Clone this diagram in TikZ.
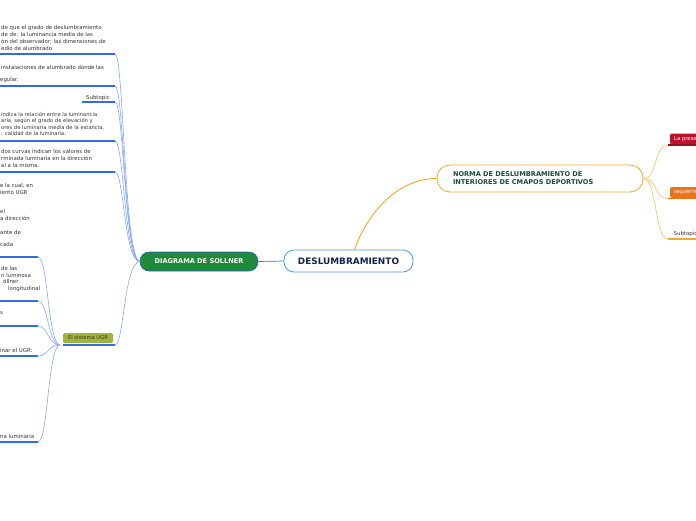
\documentclass[tikz,border=0pt]{standalone}
\usepackage{fontspec}
\usetikzlibrary{calc}
\setmainfont{DejaVu Sans}
\definecolor{ublue}{HTML}{2F6DE6}
\definecolor{cblue}{HTML}{86A8F7}
\definecolor{sgreen}{HTML}{1E8A3C}
\definecolor{sborder}{HTML}{2F62C8}
\definecolor{dborder}{HTML}{4A9AD6}
\definecolor{navy}{HTML}{14244F}
\definecolor{orb}{HTML}{F7A728}
\definecolor{orl}{HTML}{FBC46A}
\definecolor{ntext}{HTML}{1C4A3C}
\definecolor{crim}{HTML}{B8142F}
\definecolor{oran}{HTML}{EC7418}
\definecolor{olive}{HTML}{A2B23A}
\definecolor{tgray}{HTML}{333333}
\begin{document}
\begin{tikzpicture}[x=1pt,y=-1pt,
  leaf/.style={anchor=base west, inner sep=0pt, align=left, text=tgray,
    font=\fontsize{5.4}{6.6}\selectfont},
  uline/.style={draw=ublue, line width=1.4pt},
  conn/.style={draw=cblue, line width=0.6pt},
  oconn/.style={draw=orl, line width=0.7pt},
  oline/.style={draw=orb, line width=1.2pt},
  subbox/.style={anchor=west, inner xsep=4pt, inner ysep=0pt, minimum height=11pt,
    text width=40pt, align=left, text=white, rounded corners=1.5pt,
    font=\fontsize{5.2}{6}\selectfont}
]
\useasboundingbox (0,0) rectangle (696,520);
\clip (0,0) rectangle (696,520);

% ---------- main nodes ----------
\node[draw=dborder, fill=white, rounded corners=10pt, minimum width=129pt,
      minimum height=22pt, line width=0.8pt, text=navy,
      font=\fontsize{8.9}{10}\selectfont\bfseries] (root) at (348.5,261) {DESLUMBRAMIENTO};
\node[draw=sborder, fill=sgreen, rounded corners=9pt, minimum width=118pt,
      minimum height=19pt, line width=0.6pt, text=white,
      font=\fontsize{6.6}{8}\selectfont\bfseries] (sol) at (199,261.5) {DIAGRAMA DE SOLLNER};
\node[draw=orb, fill=white, rounded corners=13pt, minimum height=27pt,
      text width=174pt, inner xsep=16pt, align=left, line width=0.8pt, text=ntext,
      font=\fontsize{6.6}{8}\selectfont\bfseries] (norma) at (540,178.5)
      {NORMA DE DESLUMBRAMIENTO DE\\INTERIORES DE CMAPOS DEPORTIVOS};

\draw[draw=ublue, line width=0.7pt] (root.west) -- (sol.east);
\coordinate (rt) at ($(root.north)+(6,0)$);
\draw[draw=orb, line width=0.9pt] (rt) .. controls (368,212) and (398,178.5) .. (norma.west);

% ---------- right side ----------
\node[subbox, fill=crim] (pres) at (670,139) {La prese};
\node[subbox, fill=oran] (requ) at (670,192.5) {requerim};
\node[leaf] (subr) at (673.5,235) {Subtopic};
\coordinate (p1) at (668,145); \coordinate (p1e) at (696,145);
\coordinate (p2) at (668,198.5); \coordinate (p2e) at (696,198.5);
\coordinate (p3) at (668,239); \coordinate (p3e) at (696,239);
\draw[oline, draw=crim!80!black] (p1) -- (p1e);
\draw[oline, draw=oran] (p2) -- (p2e);
\draw[oline] (p3) -- (p3e);
\coordinate (ne) at (norma.east);
\coordinate (nec) at ($(ne)+(14,0)$);
\draw[oconn] (ne) .. controls (nec) and (654,145) .. (p1);
\draw[oconn] (ne) .. controls (nec) and (654,198.5) .. (p2);
\draw[oconn] (ne) .. controls (nec) and (654,239) .. (p3);

% ---------- Sollner branch ----------
\coordinate (hub) at (140,261.5);
\foreach \n/\y/\xa in {a/54/0, b/86/0, c/102/82, d/141/0, e/172/0}{
  \coordinate (\n s) at (\xa,\y);
  \coordinate (\n e) at (115,\y);
  \draw[uline] (\n s) -- (\n e);
  \draw[conn] (\n e) .. controls (124,\y) and (124,261.5) .. (hub);
}

% (base of a multi-line text = baseline of its last line)
\node[leaf, font=\fontsize{5.4}{7}\selectfont] (ta) at (1,50) {de que el grado de deslumbramiento\\de de: la luminancia media de las\\ón del observador; las dimensiones de\\edio de alumbrado};
\node[leaf] (tb1) at (1,69) {instalaciones de alumbrado donde las};
\node[leaf] (tb2) at (0,81) {egular.};
\node[leaf] (tc) at (86,99) {Subtopic};
\node[leaf, font=\fontsize{5.2}{6.5}\selectfont] (td) at (1,135.5) {indica la relación entre la luminancia\\aria, según el grado de elevación y\\ores de luminaria media de la estancia,\\. calidad de la luminaria.};
\node[leaf] (te) at (1,167) {dos curvas indican los valores de\\rminada luminaria en la dirección\\al a la misma.};
\node[leaf] (tf) at (0,194) {e la cual, en\\iento UGR};
\node[leaf] (tg) at (0,220) {el\\a dirección};
\node[leaf] (th) at (0,234) {ante de};
\node[leaf] (ti) at (0,246) {cada};

% ---------- UGR branch ----------
\node[fill=olive, rounded corners=1.5pt, minimum width=50pt, minimum height=10pt,
      inner sep=0pt, text=black!80, font=\fontsize{5.2}{6}\selectfont] (ugr) at (88,338) {El sistema UGR};
\coordinate (us) at (63,345); \coordinate (ue) at (115,345);
\draw[uline] (us) -- (ue);
\draw[conn] (ue) .. controls (124,345) and (124,261.5) .. (hub);
\coordinate (uhub) at (60,345);
\foreach \n/\y in {f/257, g/301, h/326, i/356, j/442}{
  \coordinate (\n s) at (0,\y);
  \coordinate (\n e) at (38,\y);
  \draw[uline] (\n s) -- (\n e);
  \draw[conn] (\n e) .. controls (48,\y) and (48,345) .. (uhub);
}
\node[leaf] (tj) at (1,277) {de las\\n luminosa};
\node[leaf] (tk) at (3,283.5) {öllner};
\node[leaf] (tl) at (8,290) {longitudinal};
\node[leaf] (tm) at (0,314) {s};
\node[leaf] (tn) at (0,352) {inar el UGR:};
\node[leaf] (to) at (0,438) {na luminaria};
\end{tikzpicture}
\end{document}
